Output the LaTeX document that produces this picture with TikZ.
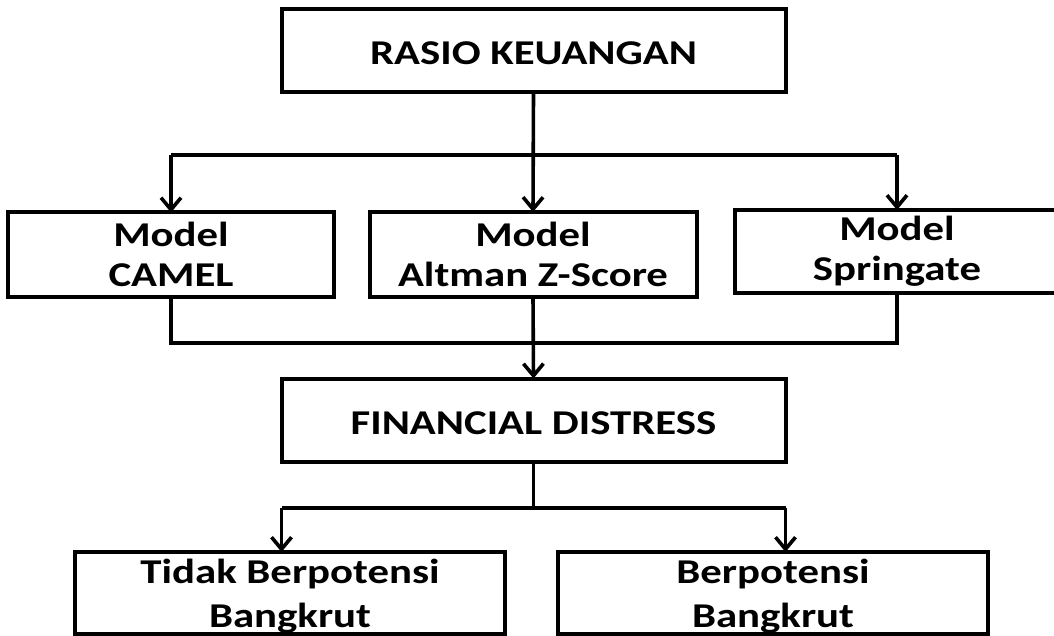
\documentclass[tikz,border=0pt]{standalone}
\usepackage{fontspec}
\setmainfont{Carlito}
\newfontfamily\widefont{Carlito}[FakeStretch=1.23]
\usetikzlibrary{arrows.meta}

\tikzset{
  box/.style={draw, line width=2pt, inner sep=0pt, outer sep=0pt, align=center},
  topbox/.style={box, font=\widefont\bfseries\fontsize{17.4pt}{20pt}\selectfont},
  endbox/.style={box, text depth=0pt, font=\widefont\bfseries\fontsize{17.4pt}{22pt}\selectfont},
  plain/.style={line width=1.8pt},
  link/.style={plain, -{Straight Barb[length=6pt,width=10pt]}}
}

\begin{document}
\begin{tikzpicture}[x=0.5pt,y=-0.5pt]
  \useasboundingbox (0,0) rectangle (1054,636);
  \clip (0,0) rectangle (1054,636);
  % top box
  \node [topbox, minimum width=252pt, minimum height=41.5pt, text height=14pt, text depth=0pt] (rasio) at (533.5,51) {RASIO KEUANGAN};
  % model boxes
  \node [topbox, minimum width=163pt, minimum height=42pt] (camel) at (171,254.5) {Model\\CAMEL};
  \node [topbox, minimum width=163.5pt, minimum height=42.5pt] (altman) at (533,254.5) {Model\\Altman Z-Score};
  \node [topbox, minimum width=162.5pt, minimum height=41.5pt] (springate) at (897,251.5) {Model\\Springate};
  % financial distress box
  \node [topbox, minimum width=252pt, minimum height=41.5pt, text height=14pt, text depth=0pt] (distress) at (533.5,420) {FINANCIAL DISTRESS};
  % result boxes
  \node [endbox, minimum width=215pt, minimum height=41pt] (tidak) at (290,593) {Tidak Berpotensi\\Bangkrut};
  \node [endbox, minimum width=215pt, minimum height=41pt] (bangkrut) at (773,593) {Berpotensi\\Bangkrut};

  % split to the models
  \coordinate (split) at (533,155);
  \draw [plain] (camel.north |- split) -- (springate.north |- split);
  \draw [link] (rasio.south) -- (altman.north);
  \draw [link] (camel.north |- split) -- (camel.north);
  \draw [link] (springate.north |- split) -- (springate.north);
  % join to financial distress
  \coordinate (join) at (533,343);
  \draw [plain] (camel.south) -- (camel.south |- join) -- (springate.south |- join) -- (springate.south);
  \draw [link] (altman.south) -- (distress.north);
  % fork to the results
  \coordinate (fork) at (533.5,508);
  \draw [plain] (distress.south) -- (fork);
  \draw [plain] (distress.south west |- fork) -- (distress.south east |- fork);
  \draw [link] (distress.south west |- fork) -- (tidak.north -| distress.south west);
  \draw [link] (distress.south east |- fork) -- (bangkrut.north -| distress.south east);
\end{tikzpicture}
\end{document}
